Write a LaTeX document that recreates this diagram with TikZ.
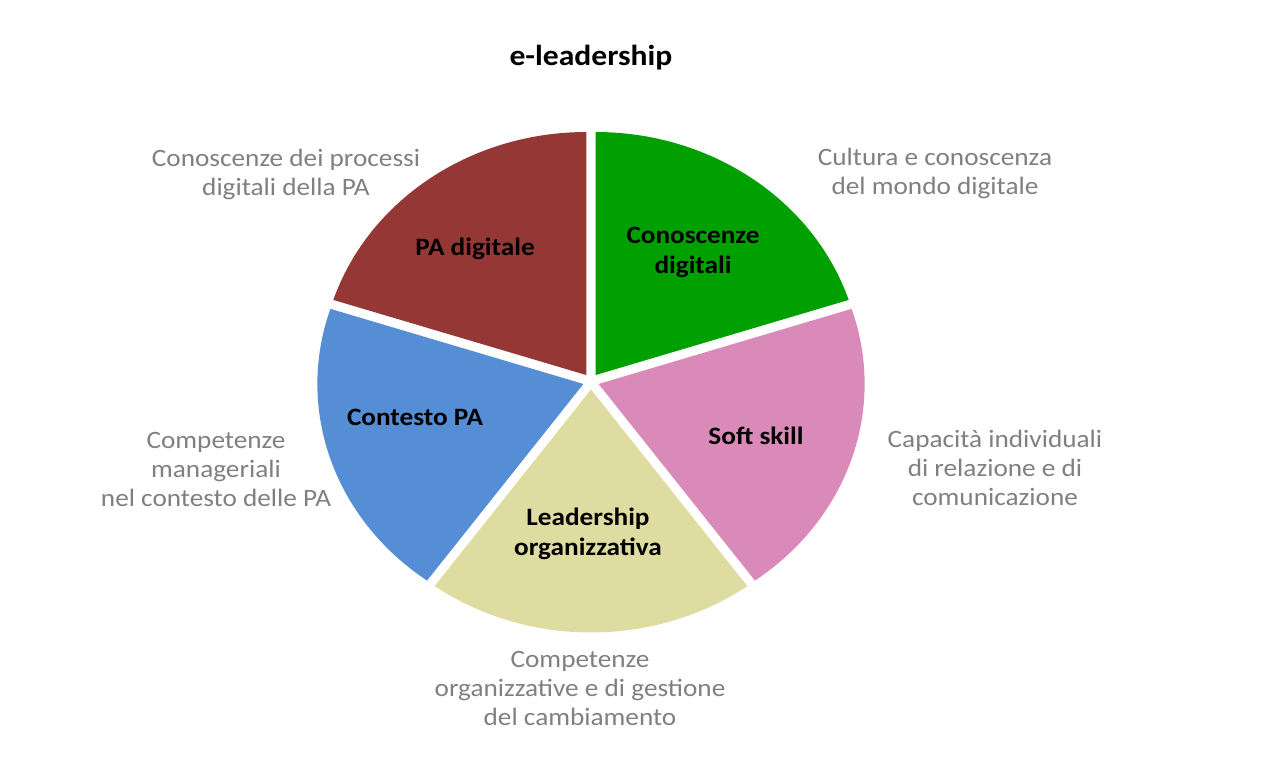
\documentclass[tikz,border=0pt]{standalone}
\usepackage{fontspec}
\setmainfont[FakeStretch=1.09]{Carlito}
\usetikzlibrary{calc}

\definecolor{piered}{RGB}{149,55,53}
\definecolor{piegreen}{RGB}{0,160,0}
\definecolor{pieblue}{RGB}{85,142,213}
\definecolor{pieyellow}{RGB}{222,220,160}
\definecolor{piepink}{RGB}{217,138,185}
\definecolor{descgray}{RGB}{128,128,128}

\begin{document}
\begin{tikzpicture}[x=0.5pt, y=0.5pt, font=\fontsize{12.5}{14.5}\selectfont,
  slicelabel/.style={font=\fontsize{12.5}{15}\selectfont\bfseries, align=center},
  desc/.style={text=descgray, align=center}]

  \useasboundingbox (0,0) rectangle (1280,781);

  % Pie geometry (slightly wider than tall, slices pulled apart)
  \def\rx{266}
  \def\ry{243}
  \def\gap{8}
  \coordinate (C) at (591, 399.5);

  % Slices
  \fill[piegreen]  ($(C)+(54:\gap)$)  -- +({\rx*cos(18)},{\ry*sin(18)})
    arc[start angle=18, end angle=90, x radius=\rx, y radius=\ry] -- cycle;   % Conoscenze digitali
  \fill[piered]    ($(C)+(126:\gap)$) -- +({\rx*cos(90)},{\ry*sin(90)})
    arc[start angle=90, end angle=162, x radius=\rx, y radius=\ry] -- cycle;  % PA digitale
  \fill[pieblue]   ($(C)+(198:\gap)$) -- +({\rx*cos(162)},{\ry*sin(162)})
    arc[start angle=162, end angle=234, x radius=\rx, y radius=\ry] -- cycle; % Contesto PA
  \fill[pieyellow] ($(C)+(270:\gap)$) -- +({\rx*cos(234)},{\ry*sin(234)})
    arc[start angle=234, end angle=306, x radius=\rx, y radius=\ry] -- cycle; % Leadership
  \fill[piepink]   ($(C)+(-18:\gap)$) -- +({\rx*cos(-54)},{\ry*sin(-54)})
    arc[start angle=-54, end angle=18, x radius=\rx, y radius=\ry] -- cycle;  % Soft skill

  % Title
  \node[font=\fontsize{14.5}{17}\selectfont\bfseries] (title) at (591, 723) {e-leadership};

  % Slice labels
  \node[slicelabel] (pa)   at (475, 532) {PA digitale};
  \node[slicelabel] (cono) at (693, 529) {Conoscenze\\digitali};
  \node[slicelabel] (cont) at (415, 364) {Contesto PA};
  \node[slicelabel] (soft) at (756, 345) {Soft skill};
  \node[slicelabel] (lead) at (588, 247) {Leadership\\organizzativa};

  % Descriptions around the pie
  \node[desc] (dpa)   at (286, 607) {Conoscenze dei processi\\digitali della PA};
  \node[desc] (dcono) at (935, 608) {Cultura e conoscenza\\del mondo digitale};
  \node[desc] (dcont) at (216, 312) {Competenze\\manageriali\\nel contesto delle PA};
  \node[desc] (dsoft) at (995, 313) {Capacità individuali\\di relazione e di\\comunicazione};
  \node[desc] (dlead) at (580, 93)  {Competenze\\organizzative e di gestione\\del cambiamento};

\end{tikzpicture}
\end{document}
